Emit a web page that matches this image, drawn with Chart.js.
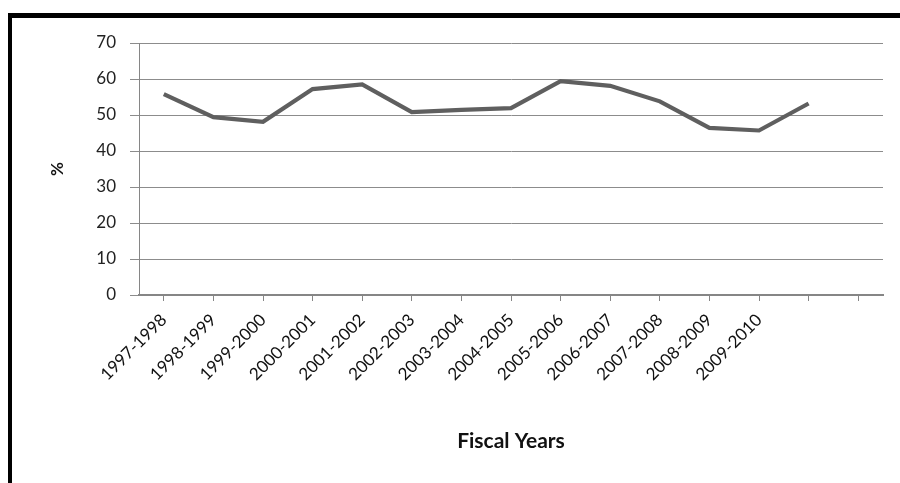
<!DOCTYPE html>
<html>
<head>
<meta charset="utf-8">
<script src="https://cdn.jsdelivr.net/npm/chart.js@4/dist/chart.umd.min.js"></script>
<style>
  html, body { margin: 0; padding: 0; background: #fff; }
  #wrap { position: relative; width: 900px; height: 483px; overflow: hidden; }
  #c { position: absolute; left: 0; top: 0; }
  #frame {
    position: absolute; left: 8px; top: 13px; right: 0; bottom: 0;
    border-top: 5px solid #000; border-left: 4px solid #000;
    pointer-events: none;
  }
</style>
</head>
<body>
<div id="wrap">
  <canvas id="c" width="900" height="483"></canvas>
  <div id="frame"></div>
</div>
<script>
// Fiscal years on the category axis (two trailing empty slots keep the axis span)
const fiscalYears = [
  '1997-1998', '1998-1999', '1999-2000', '2000-2001', '2001-2002',
  '2002-2003', '2003-2004', '2004-2005', '2005-2006', '2006-2007',
  '2007-2008', '2008-2009', '2009-2010', '', ''
];
// Percentage per fiscal year
const percentValues = [55.8, 49.4, 48.1, 57.2, 58.5, 50.8, 51.4, 51.9, 59.4, 58.1, 53.8, 46.4, 45.7, 53.2];
// Value axis limits
const yMin = 0, yMax = 70, yStep = 10;

const fontFamily = 'Lato, "Open Sans", "Liberation Sans", sans-serif';

new Chart(document.getElementById('c'), {
  type: 'line',
  data: {
    labels: fiscalYears,
    datasets: [{
      data: percentValues,
      borderColor: '#5f5f5f',
      borderWidth: 4.2,
      pointRadius: 0,
      tension: 0,
      fill: false
    }]
  },
  options: {
    responsive: false,
    animation: false,
    events: [],
    layout: { padding: { top: 43, right: 17, bottom: 29, left: 47 } },
    plugins: { legend: { display: false }, tooltip: { enabled: false } },
    scales: {
      x: {
        type: 'category',
        offset: true,
        afterFit: s => { s.height = 159; },
        grid: { display: true, drawOnChartArea: false, drawTicks: true, tickLength: 6, color: '#868686', lineWidth: 1, offset: false },
        border: { display: true, color: '#868686', width: 2 },
        ticks: {
          autoSkip: false, minRotation: 45, maxRotation: 45, padding: 9,
          color: '#111', font: { family: fontFamily, size: 17 }
        },
        title: {
          display: true, text: 'Fiscal Years', color: '#111',
          font: { family: fontFamily, size: 21, weight: 'bold' },
          padding: { top: 0, bottom: 0 }
        }
      },
      y: {
        min: yMin, max: yMax,
        afterFit: s => { s.width = 92; },
        grid: { color: '#8c8c8c', lineWidth: 1, drawTicks: true, tickLength: 9 },
        border: { display: true, color: '#868686', width: 1 },
        ticks: {
          stepSize: yStep, padding: 14, color: '#222',
          font: { family: fontFamily, size: 17 }
        },
        title: {
          display: true, text: '%', color: '#111',
          font: { family: fontFamily, size: 17, weight: 'bold' },
          padding: { top: 0, bottom: 0 }
        }
      }
    }
  }
});
</script>
</body>
</html>
